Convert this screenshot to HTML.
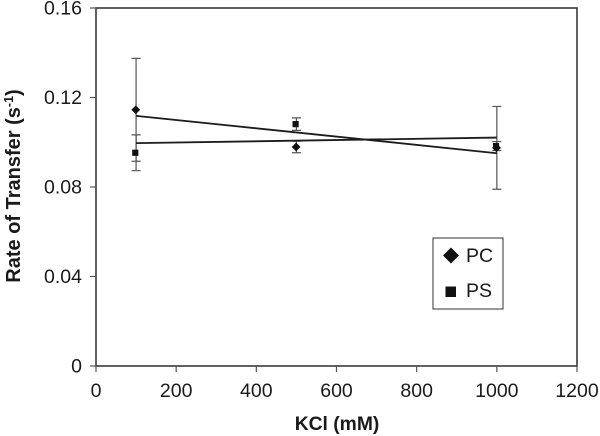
<!DOCTYPE html>
<html>
<head>
<meta charset="utf-8">
<style>
html,body{margin:0;padding:0;background:#fff;}
svg{display:block;}
text{font-family:"Liberation Sans",sans-serif;fill:#1a1a1a;}
</style>
</head>
<body>
<svg id="chart" xmlns="http://www.w3.org/2000/svg" width="600" height="436" viewBox="0 0 600 436">
  <rect x="96" y="8" width="481" height="358" fill="#fff" stroke="#3a3a3a" stroke-width="1.6"/>
  <g id="axes"></g>
  <g id="series"></g>
  <text transform="translate(20,186) rotate(-90)" text-anchor="middle" font-size="20" font-weight="bold">Rate of Transfer (s<tspan font-size="12.5" dy="-7">-1</tspan><tspan dy="7">)</tspan></text>
  <text x="337" y="430" text-anchor="middle" font-size="19.3" font-weight="bold">KCl (mM)</text>
  <g>
    <rect x="433" y="238" width="70" height="71" fill="#fff" stroke="#555" stroke-width="1.2"/>
    <polygon points="451,247.5 459,255.5 451,263.5 443,255.5" fill="#111"/>
    <text x="466" y="262" font-size="19.5">PC</text>
    <rect x="445.5" y="286.5" width="10.5" height="10.5" fill="#111"/>
    <text x="466" y="297" font-size="19.5">PS</text>
  </g>
</svg>
<script>
var xTicks = [0, 200, 400, 600, 800, 1000, 1200];
var yTicks = [0, 0.04, 0.08, 0.12, 0.16];
var yTickLabels = ["0", "0.04", "0.08", "0.12", "0.16"];
var categories = [100, 500, 1000];
var pcValues = [0.1145, 0.0979, 0.0975];
var pcErrors = [0.0230, 0.0026, 0.0185];
var psValues = [0.0953, 0.1081, 0.0983];
var psErrors = [0.0080, 0.0028, 0.0020];
var pcTrend = [0.1118, 0.0951];
var psTrend = [0.0996, 0.1021];

var NS = 'http://www.w3.org/2000/svg';
function sx(v) { return 96 + v / 1200 * 481; }
function sy(v) { return 366 - v / 0.16 * 358; }
function make(parent, tag, attrs) {
  var el = document.createElementNS(NS, tag);
  for (var k in attrs) el.setAttribute(k, attrs[k]);
  parent.appendChild(el);
  return el;
}
var axes = document.getElementById('axes');
var series = document.getElementById('series');

xTicks.forEach(function (t) {
  var tick = make(axes, 'line', {x1: sx(t), x2: sx(t), y1: 366, y2: 372, stroke: '#555', 'stroke-width': 1.2});
  
  
  var label = make(axes, 'text', {x: sx(t), y: 397, 'text-anchor': 'middle', 'font-size': 19.5});
  label.textContent = String(t);
  
  
});
yTicks.forEach(function (t, i) {
  var tick = make(axes, 'line', {x1: 90, x2: 96, y1: sy(t), y2: sy(t), stroke: '#555', 'stroke-width': 1.2});
  
  
  var label = make(axes, 'text', {x: 82, y: sy(t) + 6.5, 'text-anchor': 'end', 'font-size': 19.5});
  label.textContent = yTickLabels[i];
  
  
});

function errorBars(values, errors) {
  categories.forEach(function (c, i) {
    var x = sx(c), hi = sy(values[i] + errors[i]), lo = sy(values[i] - errors[i]);
    var bar = make(series, 'path', {
      d: 'M' + x + ' ' + hi + 'V' + lo + 'M' + (x - 4.5) + ' ' + hi + 'H' + (x + 4.5) + 'M' + (x - 4.5) + ' ' + lo + 'H' + (x + 4.5),
      fill: 'none', stroke: '#555', 'stroke-width': 1.2
    });
    
    
  });
}
errorBars(pcValues, pcErrors);
errorBars(psValues, psErrors);

function trend(values) {
  var first = categories[0], last = categories[categories.length - 1];
  var line = make(series, 'line', {x1: sx(first), y1: sy(values[0]), x2: sx(last), y2: sy(values[1]), stroke: '#1c1c1c', 'stroke-width': 1.8});
  
  
}
trend(pcTrend);
trend(psTrend);

pcValues.forEach(function (v, i) {
  var x = sx(categories[i]) - 0.3, y = sy(v), r = 4.4;
  var p = make(series, 'polygon', {points: x + ',' + (y - r) + ' ' + (x + r) + ',' + y + ' ' + x + ',' + (y + r) + ' ' + (x - r) + ',' + y, fill: '#111'});
  
  
});
psValues.forEach(function (v, i) {
  var x = sx(categories[i]) - 0.8, y = sy(v), r = 3.1;
  var p = make(series, 'rect', {x: x - r, y: y - r, width: 2 * r, height: 2 * r, fill: '#111'});
  
  
});
</script>
</body>
</html>
